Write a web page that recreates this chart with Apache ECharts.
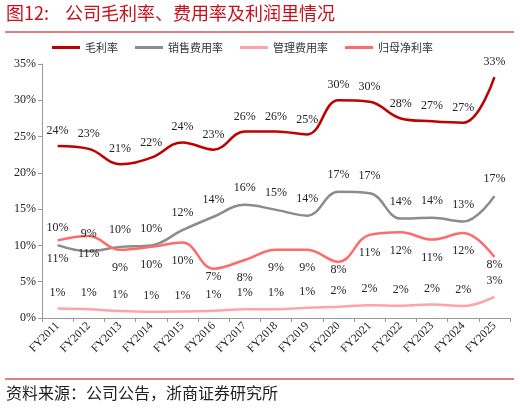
<!DOCTYPE html>
<html>
<head>
<meta charset="utf-8">
<script src="https://cdn.jsdelivr.net/npm/echarts@6/dist/echarts.min.js"></script>
<style>
html,body{margin:0;padding:0;background:#fff;}
#c{width:520px;height:410px;}
</style>
</head>
<body>
<div id="c"></div>
<script>
var categories = ['FY2011','FY2012','FY2013','FY2014','FY2015','FY2016','FY2017','FY2018','FY2019','FY2020','FY2021','FY2022','FY2023','FY2024','FY2025'];
var grossMargin = [23.7, 23.3, 21.2, 22.1, 24.2, 23.2, 25.7, 25.7, 25.3, 30.0, 29.8, 27.5, 27.1, 26.9, 33.2];
var salesExpense = [10.05, 9.2, 9.8, 10.0, 12.1, 13.95, 15.6, 14.9, 14.1, 17.4, 17.2, 13.7, 13.8, 13.3, 16.8];
var adminExpense = [1.3, 1.2, 0.95, 0.85, 0.9, 1.0, 1.2, 1.2, 1.4, 1.55, 1.75, 1.7, 1.85, 1.65, 2.9];
var netMargin = [10.7, 11.3, 9.4, 9.8, 10.4, 6.8, 8.0, 9.4, 9.4, 7.75, 11.45, 11.8, 10.8, 11.7, 8.4];
var yTicks = [0, 5, 10, 15, 20, 25, 30, 35];

var serif = '"Liberation Serif", "Times New Roman", serif';
var cjk = '"Noto Sans CJK SC", sans-serif';
function fmt(p){ return Math.round(p.value) + '%'; }
function lbl(pos, dist){
  return {show:true, position:pos, distance:dist, formatter:fmt, fontFamily:serif, fontSize:12, color:'#222'};
}
// label distance tweaks (index -> distance) where the original placed labels closer to the line
var netLabelClose = {5:2, 9:2, 14:2};
function mk(name, data, color, pos, dist, close){
  var items = data.map(function(v, i){
    if (close && close[i] !== undefined) return {value:v, label:{distance:close[i]}};
    return v;
  });
  return {name:name, type:'line', data:items, smooth:0.4, symbol:'circle', symbolSize:0.1, showSymbol:true,
    lineStyle:{color:color, width:2.5}, itemStyle:{color:color}, label:lbl(pos, dist), labelLayout:{hideOverlap:false}};
}
var chart = echarts.init(document.getElementById('c'));
chart.setOption({
  animation:false,
  grid:{left:42, right:10, top:64, bottom:92},
  legend:{
    top:42, left:52, padding:0, itemWidth:28, itemHeight:3, itemGap:17, icon:'rect',
    textStyle:{fontFamily:cjk, fontSize:11, color:'#333'},
    data:['毛利率','销售费用率','管理费用率','归母净利率']
  },
  graphic:[
    {type:'text', left:6, top:4, style:{text:'图12:', fill:'#c8101a', font:'18px "Noto Sans CJK SC", serif'}},
    {type:'text', left:65, top:4, style:{text:'公司毛利率、费用率及利润里情况', fill:'#c8101a', font:'18px "Noto Sans CJK SC", serif'}},
    {type:'line', shape:{x1:5, y1:32, x2:514, y2:32}, style:{stroke:'#c00000', lineWidth:1}},
    {type:'line', shape:{x1:5, y1:379, x2:514, y2:379}, style:{stroke:'#c00000', lineWidth:1}},
    {type:'text', left:6, top:385, style:{text:'资料来源：公司公告，浙商证券研究所', fill:'#222', font:'16px "Noto Sans CJK SC", serif'}}
  ],
  xAxis:{
    type:'category', data:categories, boundaryGap:true,
    axisLine:{lineStyle:{color:'#999'}},
    axisTick:{show:true, length:4, lineStyle:{color:'#999'}},
    axisLabel:{rotate:45, fontFamily:serif, fontSize:11.5, color:'#222', margin:6, interval:0}
  },
  yAxis:{
    type:'value', min:yTicks[0], max:yTicks[yTicks.length-1], interval:5,
    axisLine:{show:true, lineStyle:{color:'#999'}},
    axisTick:{show:true, length:4, lineStyle:{color:'#999'}},
    splitLine:{show:false},
    axisLabel:{formatter:'{value}%', fontFamily:serif, fontSize:12, color:'#222', margin:6}
  },
  series:[
    mk('毛利率', grossMargin, '#c00000', 'top', 9),
    mk('销售费用率', salesExpense, '#8c8c8c', 'top', 11),
    mk('管理费用率', adminExpense, '#ffa3ab', 'top', 10),
    mk('归母净利率', netMargin, '#ff6b6b', 'bottom', 12, netLabelClose)
  ]
});
</script>
</body>
</html>
